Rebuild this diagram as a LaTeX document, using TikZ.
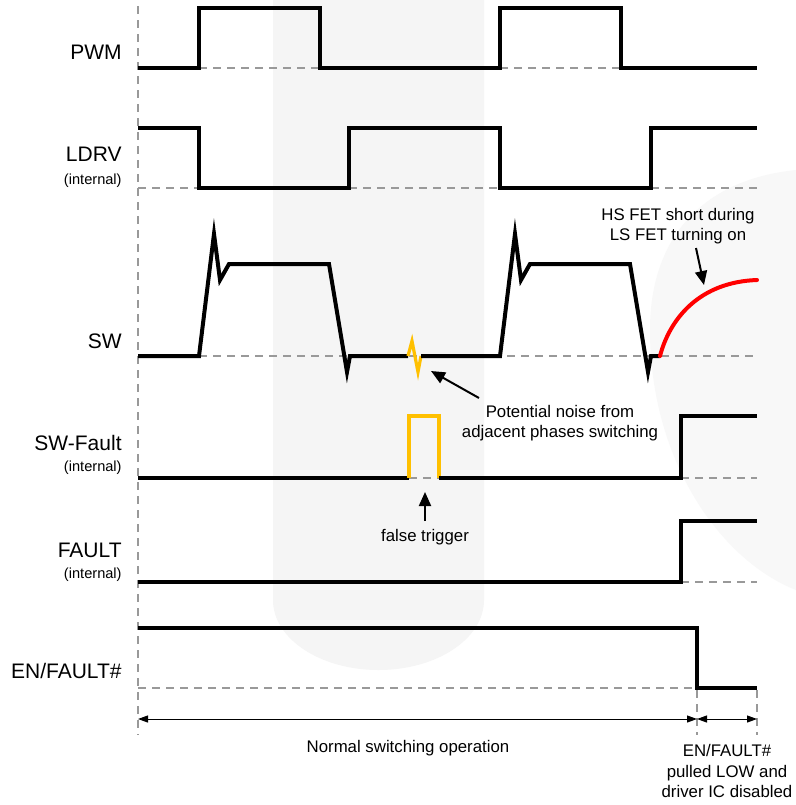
\documentclass[tikz,border=0pt]{standalone}
\usepackage{fontspec}
\setmainfont{Liberation Sans}
\usetikzlibrary{arrows.meta}
\definecolor{dashgray}{HTML}{999999}
\definecolor{noiseorange}{HTML}{FFC000}
\definecolor{wm}{HTML}{F5F5F5}
\definecolor{wmlight}{HTML}{F8F8F8}
\begin{document}
\begin{tikzpicture}[x=0.5pt,y=-0.5pt,
  wave/.style={line width=2pt, line join=miter, black},
  noisewave/.style={line width=1.6pt, line join=miter, noiseorange},
  base/.style={line width=1pt, dashgray, dash pattern=on 4pt off 3pt},
  sig/.style={font=\fontsize{10.5}{12}\selectfont, anchor=east, inner sep=0pt},
  sub/.style={font=\fontsize{7.3}{9}\selectfont, anchor=east, inner sep=0pt},
  note/.style={font=\fontsize{8.4}{10.3}\selectfont, align=center, inner sep=0pt},
  callout/.style={line width=1pt, -{Triangle[length=7pt,width=6pt]}},
  dim/.style={line width=0.5pt, {Triangle[length=5pt,width=3.5pt]}-{Triangle[length=5pt,width=3.5pt]}}
]
\useasboundingbox (0,0) rectangle (796,805);
\fill[white] (0,0) rectangle (796,805);
% faint watermark
\fill[wm] (273,0) -- (484,0) -- (484,600) arc[start angle=0, end angle=180, x radius=105.5, y radius=70] -- cycle;
\fill[wmlight] (796,170) .. controls (700,180) and (650,240) .. (650,330) .. controls (650,460) and (720,560) .. (796,590) -- cycle;

% time reference lines
\coordinate (t0top) at (138,6);
\coordinate (t0bot) at (138,735);
\draw[base] (t0top) -- (t0bot);

% ---------------- PWM ----------------
\node[sig] (lpwm) at (122,52) {PWM};
\draw[base] (199,68) -- (320,68);
\draw[base] (500,68) -- (621,68);
\draw[wave] (138,68) -- (199,68) -- (199,8) -- (320,8) -- (320,68) -- (500,68) -- (500,8) -- (621,8) -- (621,68) -- (757,68);

% ---------------- LDRV ----------------
\node[sig] (lldrv) at (122,154) {LDRV};
\node[sub] (lldrvi) at (122,181) {(internal)};
\draw[base] (138,188) -- (199,188);
\draw[base] (349,188) -- (500,188);
\draw[base] (651,188) -- (757,188);
\draw[wave] (138,128) -- (199,128) -- (199,188) -- (349,188) -- (349,128) -- (500,128) -- (500,188) -- (651,188) -- (651,128) -- (757,128);

% ---------------- SW ----------------
\node[sig] (lsw) at (122,341) {SW};
\draw[base] (199,356) -- (757,356);
\draw[wave] (138,356) -- (199,356) -- (214,234) -- (220,280) -- (229,264) -- (329,264) -- (347,372) -- (350,356) -- (408,356);
\draw[noisewave] (408,356) -- (412,341) -- (418,372) -- (421,356);
\draw[wave] (421,356) -- (500,356) -- (515,234) -- (521,280) -- (530,264) -- (630,264) -- (648,372) -- (651,356) -- (660,356);
\draw[line width=2pt, red, line cap=round] (660,356) .. controls (670,318) and (700,282) .. (757,280);

\node[note] (hsnote) at (678,226) {HS FET short during\\LS FET turning on};
\coordinate (hstail) at (696,248);
\coordinate (hstip) at (704,285);
\draw[callout] (hstail) -- (hstip);

\node[note] (noisenote) at (560,423) {Potential noise from\\adjacent phases switching};
\coordinate (noisetail) at (479,398);
\coordinate (noisetip) at (431,371);
\draw[callout] (noisetail) -- (noisetip);

% ---------------- SW-Fault ----------------
\node[sig] (lswf) at (122,443) {SW-Fault};
\node[sub] (lswfi) at (122,468) {(internal)};
\draw[base] (409,478) -- (439,478);
\draw[base] (681,478) -- (757,478);
\draw[wave] (138,478) -- (409,478);
\draw[noisewave] (409,478) -- (409,416) -- (439,416) -- (439,478);
\draw[wave] (439,478) -- (681,478) -- (681,416) -- (757,416);

\node[note] (ftnote) at (425,537) {false trigger};
\coordinate (fttail) at (425,521);
\coordinate (fttip) at (425,492);
\draw[callout] (fttail) -- (fttip);

% ---------------- FAULT ----------------
\node[sig] (lfault) at (122,550) {FAULT};
\node[sub] (lfaulti) at (122,575) {(internal)};
\draw[base] (681,582) -- (757,582);
\draw[wave] (138,582) -- (681,582) -- (681,521) -- (757,521);

% ---------------- EN/FAULT# ----------------
\node[sig] (len) at (122,671) {EN/FAULT\#};
\draw[base] (138,688) -- (697,688);
\draw[wave] (138,628) -- (697,628) -- (697,688) -- (757,688);

% time markers and spans
\coordinate (t1top) at (697,690);
\coordinate (t1bot) at (697,735);
\coordinate (t2top) at (757,690);
\coordinate (t2bot) at (757,735);
\draw[base] (t1top) -- (t1bot);
\draw[base] (t2top) -- (t2bot);
\coordinate (s0) at (138,719);
\coordinate (s1) at (697,719);
\coordinate (s2) at (757,719);
\draw[dim] (s0) -- (s1);
\draw[dim] (s1) -- (s2);

\node[note] (normal) at (408,748) {Normal switching operation};
\node[note] (disabled) at (727,771) {EN/FAULT\#\\pulled LOW and\\driver IC disabled};
\end{tikzpicture}
\end{document}
